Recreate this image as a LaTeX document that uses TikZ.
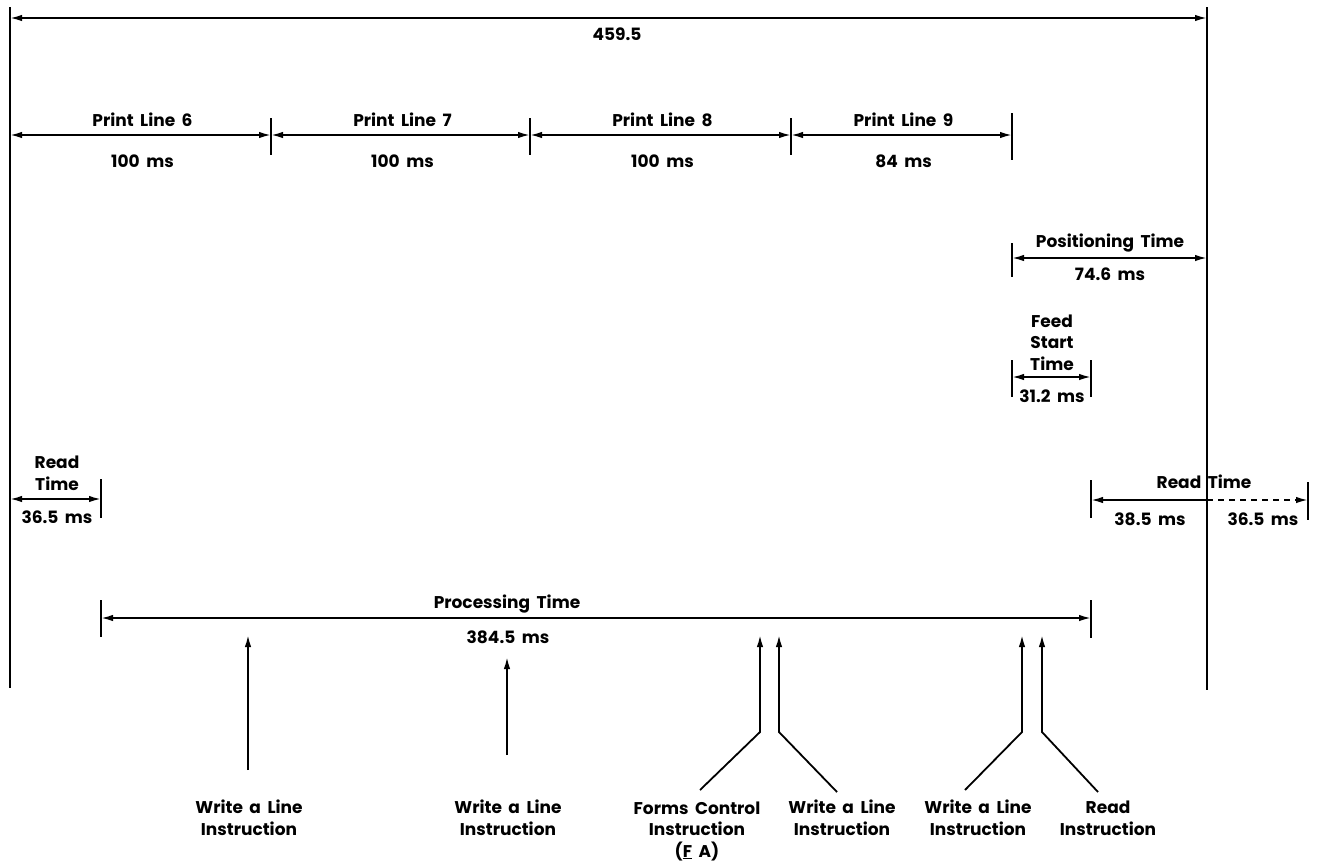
\documentclass[tikz,border=0pt]{standalone}
\usepackage{fontspec}
\setmainfont{Poppins}[WordSpace=1.8]
\usetikzlibrary{arrows.meta, positioning, calc}
\tikzset{
    dimline/.style = {line width=1.8pt, {Latex[length=12pt,width=6.5pt]}-{Latex[length=12pt,width=6.5pt]}},
    tickline/.style = {line width=1.9pt},
    frameline/.style = {line width=1.5pt},
    upline/.style = {line width=1.8pt, -{Latex[length=12pt,width=6.5pt]}},
    txt/.style = {font=\bfseries\fontsize{17}{21.5}\selectfont, align=center, inner sep=0pt, anchor=base}
}
\begin{document}
\begin{tikzpicture}[x=1pt, y=-1pt]
\useasboundingbox (0,0) rectangle (1322,865);

% frame lines
\coordinate (lt) at (10,7);
\coordinate (lb) at (10,688);
\coordinate (rt) at (1207,7);
\coordinate (rb) at (1207,690);
\draw[frameline] (lt) -- (lb);
\draw[frameline] (rt) -- (rb);

% overall time
\coordinate (all-l) at (10,18);
\coordinate (all-r) at (1207,18);
\draw[dimline] (all-l) -- (all-r);
\node[txt] (total) at (617,40) {459.5};

% print lines
\foreach \a/\b/\n/\t [count=\i] in {10/271/6/100, 271/530/7/100, 530/791/8/100, 791/1012/9/84} {
    \coordinate (p\i-l) at (\a,135);
    \coordinate (p\i-r) at (\b,135);
    \draw[dimline] (p\i-l) -- (p\i-r);
    \node[txt] (pl\i) at ($(p\i-l)!0.5!(p\i-r)+(2,-9)$) {Print Line \n};
    \node[txt] (pt\i) at ($(p\i-l)!0.5!(p\i-r)+(2,32)$) {\t\ ms};
}
\foreach \x in {271,530,791} {
    \draw[tickline] (\x,118) -- (\x,155);
}
\draw[tickline] (1012,113) -- (1012,160);

% positioning time
\coordinate (pos-l) at (1012,258);
\coordinate (pos-r) at (1207,258);
\draw[tickline] (1012,243) -- (1012,277);
\draw[dimline] (pos-l) -- (pos-r);
\node[txt] (poslbl) at (1110,247) {Positioning Time};
\node[txt] (posval) at (1110,280) {74.6 ms};

% feed start time
\coordinate (fs-l) at (1012,377);
\coordinate (fs-r) at (1091,377);
\draw[tickline] (1012,360) -- (1012,397);
\draw[tickline] (1091,360) -- (1091,397);
\draw[dimline] (fs-l) -- (fs-r);
\node[txt] (fslbl) at (1052,370) {Feed\\Start\\Time};
\node[txt] (fsval) at (1052,402) {31.2 ms};

% read time, left
\coordinate (rd1-l) at (10,499);
\coordinate (rd1-r) at (101,499);
\draw[tickline] (101,479) -- (101,518);
\draw[dimline] (rd1-l) -- (rd1-r);
\node[txt] (rd1lbl) at (57,490) {Read\\Time};
\node[txt] (rd1val) at (57,523) {36.5 ms};

% read time, right
\coordinate (rd2-l) at (1091,500);
\coordinate (rd2-m) at (1207,500);
\coordinate (rd2-r) at (1308,500);
\draw[tickline] (1091,480) -- (1091,518);
\draw[tickline] (1308,482) -- (1308,520);
\draw[line width=1.8pt, {Latex[length=12pt,width=6.5pt]}-] (rd2-l) -- (rd2-m);
\draw[line width=1.8pt, dash pattern=on 6pt off 5pt, -{Latex[length=12pt,width=6.5pt]}] (rd2-m) -- (rd2-r);
\node[txt] (rd2lbl) at (1204,488) {Read Time};
\node[txt] (rd2val1) at (1150,525) {38.5 ms};
\node[txt] (rd2val2) at (1263,525) {36.5 ms};

% processing time
\coordinate (pr-l) at (101,618);
\coordinate (pr-r) at (1091,618);
\draw[tickline] (101,600) -- (101,637);
\draw[tickline] (1091,600) -- (1091,638);
\draw[dimline] (pr-l) -- (pr-r);
\node[txt] (prlbl) at (507,608) {Processing Time};
\node[txt] (prval) at (508,643) {384.5 ms};

% instructions
\node[txt] (wr1) at (249,835) {Write a Line\\Instruction};
\node[txt] (wr2) at (508,835) {Write a Line\\Instruction};
\node[txt] (fc) at (697,857) {Forms Control\\Instruction\\(\underline{F} A)};
\node[txt] (wr3) at (842,835) {Write a Line\\Instruction};
\node[txt] (wr4) at (978,835) {Write a Line\\Instruction};
\node[txt] (rdi) at (1108,835) {Read\\Instruction};

\coordinate (a1-s) at (248,770);  \coordinate (a1-e) at (248,635);
\coordinate (a2-s) at (507,755);  \coordinate (a2-e) at (507,657);
\coordinate (a3-s) at (700,790);  \coordinate (a3-k) at (760,732);  \coordinate (a3-e) at (760,635);
\coordinate (a4-s) at (837,792);  \coordinate (a4-k) at (779,732);  \coordinate (a4-e) at (779,635);
\coordinate (a5-s) at (965,790);  \coordinate (a5-k) at (1022,732); \coordinate (a5-e) at (1022,635);
\coordinate (a6-s) at (1098,792); \coordinate (a6-k) at (1042,732); \coordinate (a6-e) at (1042,635);

\draw[upline] (a1-s) -- (a1-e);
\draw[upline] (a2-s) -- (a2-e);
\draw[upline] (a3-s) -- (a3-k) -- (a3-e);
\draw[upline] (a4-s) -- (a4-k) -- (a4-e);
\draw[upline] (a5-s) -- (a5-k) -- (a5-e);
\draw[upline] (a6-s) -- (a6-k) -- (a6-e);

\end{tikzpicture}
\end{document}
